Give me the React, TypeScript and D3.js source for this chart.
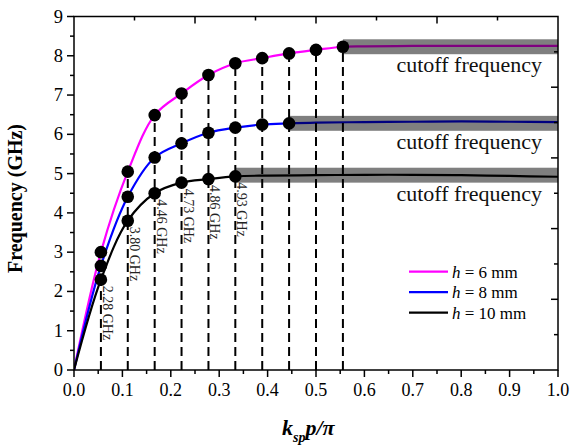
import React from "react";
import * as d3 from "d3";

const W = 571;
const H = 446;

// x positions of the sampled modes (k_sp p / pi)
const kp = [0.0556, 0.1111, 0.1667, 0.2222, 0.2778, 0.3333, 0.3889, 0.4444, 0.5, 0.5556];
// dispersion points (GHz)
const h6 = [3.0, 5.05, 6.49, 7.04, 7.51, 7.81, 7.94, 8.06, 8.15, 8.23];
const h8 = [2.65, 4.41, 5.41, 5.77, 6.04, 6.17, 6.25, 6.28];
const h10 = [2.3, 3.8, 4.5, 4.77, 4.86, 4.93];
// continuation of the curves beyond the last marked point
const h6TailX = [0.6, 0.7, 0.8, 0.9, 1.0];
const h6Tail = [8.24, 8.25, 8.25, 8.25, 8.25];
const h8TailX = [0.5, 0.6, 0.7, 0.8, 0.9, 1.0];
const h8Tail = [6.3, 6.31, 6.32, 6.33, 6.32, 6.31];
const h10TailX = [0.4, 0.5, 0.6, 0.7, 0.8, 0.9, 1.0];
const h10Tail = [4.95, 4.96, 4.97, 4.97, 4.96, 4.94, 4.92];
// cutoff bands
const cutoffs = [8.23, 6.28, 4.96];
const freqLabels = ["2.28 GHz", "3.80 GHz", "4.46 GHz", "4.73 GHz", "4.86 GHz", "4.93 GHz"];
const seriesNames = ["6 mm", "8 mm", "10 mm"];
const seriesColors = ["#ff00ff", "#0000ff", "#000000"];
const yTicks = [0, 1, 2, 3, 4, 5, 6, 7, 8, 9];
const xTicks = [0, 0.1, 0.2, 0.3, 0.4, 0.5, 0.6, 0.7, 0.8, 0.9, 1.0];

const FONT = "Liberation Serif";

export default function App() {
  const x = d3.scaleLinear().domain([0, 1]).range([74, 558]);
  const y = d3.scaleLinear().domain([0, 9]).range([370, 16.5]);
  const yR = d3.scaleLinear().domain([0, 10]).range([370, 16.5]);

  const series = [
    { pts: h6, tx: h6TailX, tv: h6Tail },
    { pts: h8, tx: h8TailX, tv: h8Tail },
    { pts: h10, tx: h10TailX, tv: h10Tail },
  ];

  const line = d3
    .line<[number, number]>()
    .x((d) => x(d[0]))
    .y((d) => y(d[1]))
    .curve(d3.curveCatmullRom.alpha(0.5));

  const paths = series.map((s) => {
    const data: [number, number][] = [[0, 0]];
    s.pts.forEach((v, i) => data.push([kp[i], v]));
    s.tx.forEach((t, i) => data.push([t, s.tv[i]]));
    return line(data) || "";
  });

  const xMinor = d3.range(0.05, 1, 0.1);
  const yMinor = d3.range(0.5, 9, 1);
  const topMajor = [0.25, 0.5, 0.75];
  const topMinor = [0.125, 0.375, 0.625, 0.875];
  const rightMajor = [2, 4, 6, 8];
  const rightMinor = [1, 3, 5, 7, 9];

  const x0 = x(0), x1 = x(1), y0 = y(0), y1 = y(9);

  return (
    <svg
      width={W}
      height={H}
      style={{ position: "absolute", left: 0, top: 0, background: "#fff", fontFamily: FONT }}
    >
      <defs>
        <clipPath id="plot">
          <rect x={x0} y={y1} width={x1 - x0} height={y0 - y1} />
        </clipPath>
      </defs>
      <rect x={0} y={0} width={W} height={H} fill="#fff" />

      <g clipPath="url(#plot)">
        {paths.map((p, i) => (
          <path key={i} d={p} fill="none" stroke={seriesColors[i]} strokeWidth={2.2} />
        ))}
        {cutoffs.map((c, i) => {
          const startX = kp[series[i].pts.length - 1];
          return (
            <rect
              key={i}
              x={x(startX)}
              y={y(c + 0.19)}
              width={x(1) - x(startX)}
              height={y(c - 0.19) - y(c + 0.19)}
              fill="#000"
              fillOpacity={0.5}
            />
          );
        })}
      </g>

      {kp.map((k, i) => (
        <line
          key={i}
          x1={x(k)}
          x2={x(k)}
          y1={y(0)}
          y2={y(h6[i])}
          stroke="#000"
          strokeWidth={2}
          strokeDasharray="9,5"
        />
      ))}

      {series.map((s, si) =>
        s.pts.map((v, i) => (
          <circle key={si + "-" + i} cx={x(kp[i])} cy={y(v)} r={6.3} fill="#000" />
        ))
      )}

      {freqLabels.map((t, i) => {
        const px = x(kp[i]) + 2;
        const py = y(h10[i]) + 6;
        return (
          <text
            key={i}
            transform={`translate(${px},${py}) rotate(90)`}
            fontSize={14}
            fill="#222"
          >
            {t}
          </text>
        );
      })}

      {cutoffs.map((c, i) => (
        <text key={i} x={542} y={[71.5, 148.5, 200.5][i]} fontSize={22} textAnchor="end" fill="#111">
          cutoff frequency
        </text>
      ))}

      {/* frame */}
      <rect x={x0} y={y1} width={x1 - x0} height={y0 - y1} fill="none" stroke="#000" strokeWidth={1.5} />

      {/* bottom ticks */}
      {xTicks.map((t) => (
        <g key={"bx" + t}>
          <line x1={x(t)} x2={x(t)} y1={y0} y2={y0 + 7} stroke="#000" strokeWidth={1.5} />
          <text x={x(t)} y={396} fontSize={18} textAnchor="middle">
            {t.toFixed(1)}
          </text>
        </g>
      ))}
      {xMinor.map((t) => (
        <line key={"bm" + t} x1={x(t)} x2={x(t)} y1={y0} y2={y0 + 4} stroke="#000" strokeWidth={1.5} />
      ))}

      {/* left ticks */}
      {yTicks.map((t) => (
        <g key={"ly" + t}>
          <line x1={x0 - 7} x2={x0} y1={y(t)} y2={y(t)} stroke="#000" strokeWidth={1.5} />
          <text x={63} y={y(t) + 6} fontSize={18.5} textAnchor="end">
            {t}
          </text>
        </g>
      ))}
      {yMinor.map((t) => (
        <line key={"lm" + t} x1={x0 - 4} x2={x0} y1={y(t)} y2={y(t)} stroke="#000" strokeWidth={1.5} />
      ))}

      {/* top ticks (inward) */}
      {topMajor.map((t) => (
        <line key={"tM" + t} x1={x(t)} x2={x(t)} y1={y1} y2={y1 + 7} stroke="#000" strokeWidth={1.5} />
      ))}
      {topMinor.map((t) => (
        <line key={"tm" + t} x1={x(t)} x2={x(t)} y1={y1} y2={y1 + 4} stroke="#000" strokeWidth={1.5} />
      ))}

      {/* right ticks (inward) */}
      {rightMajor.map((t) => (
        <line key={"rM" + t} x1={x1 - 7} x2={x1} y1={yR(t)} y2={yR(t)} stroke="#000" strokeWidth={1.5} />
      ))}
      {rightMinor.map((t) => (
        <line key={"rm" + t} x1={x1 - 4} x2={x1} y1={yR(t)} y2={yR(t)} stroke="#000" strokeWidth={1.5} />
      ))}

      {/* legend */}
      {seriesNames.map((n, i) => (
        <g key={"lg" + i}>
          <line x1={409} x2={448} y1={271.7 + i * 20.5} y2={271.7 + i * 20.5} stroke={seriesColors[i]} strokeWidth={2.2} />
          <text x={452} y={277.5 + i * 20.5} fontSize={17}>
            <tspan fontStyle="italic">h</tspan>
            {" = " + n}
          </text>
        </g>
      ))}

      {/* axis titles */}
      <text
        transform={`translate(22,198.5) rotate(-90)`}
        fontSize={20}
        fontWeight="bold"
        textAnchor="middle"
      >
        Frequency (GHz)
      </text>
      <text x={282} y={435} fontSize={22} fontWeight="bold" fontStyle="italic">
        k
        <tspan fontSize={14} dy={7}>sp</tspan>
        <tspan dy={-7}>p/π</tspan>
      </text>
    </svg>
  );
}
